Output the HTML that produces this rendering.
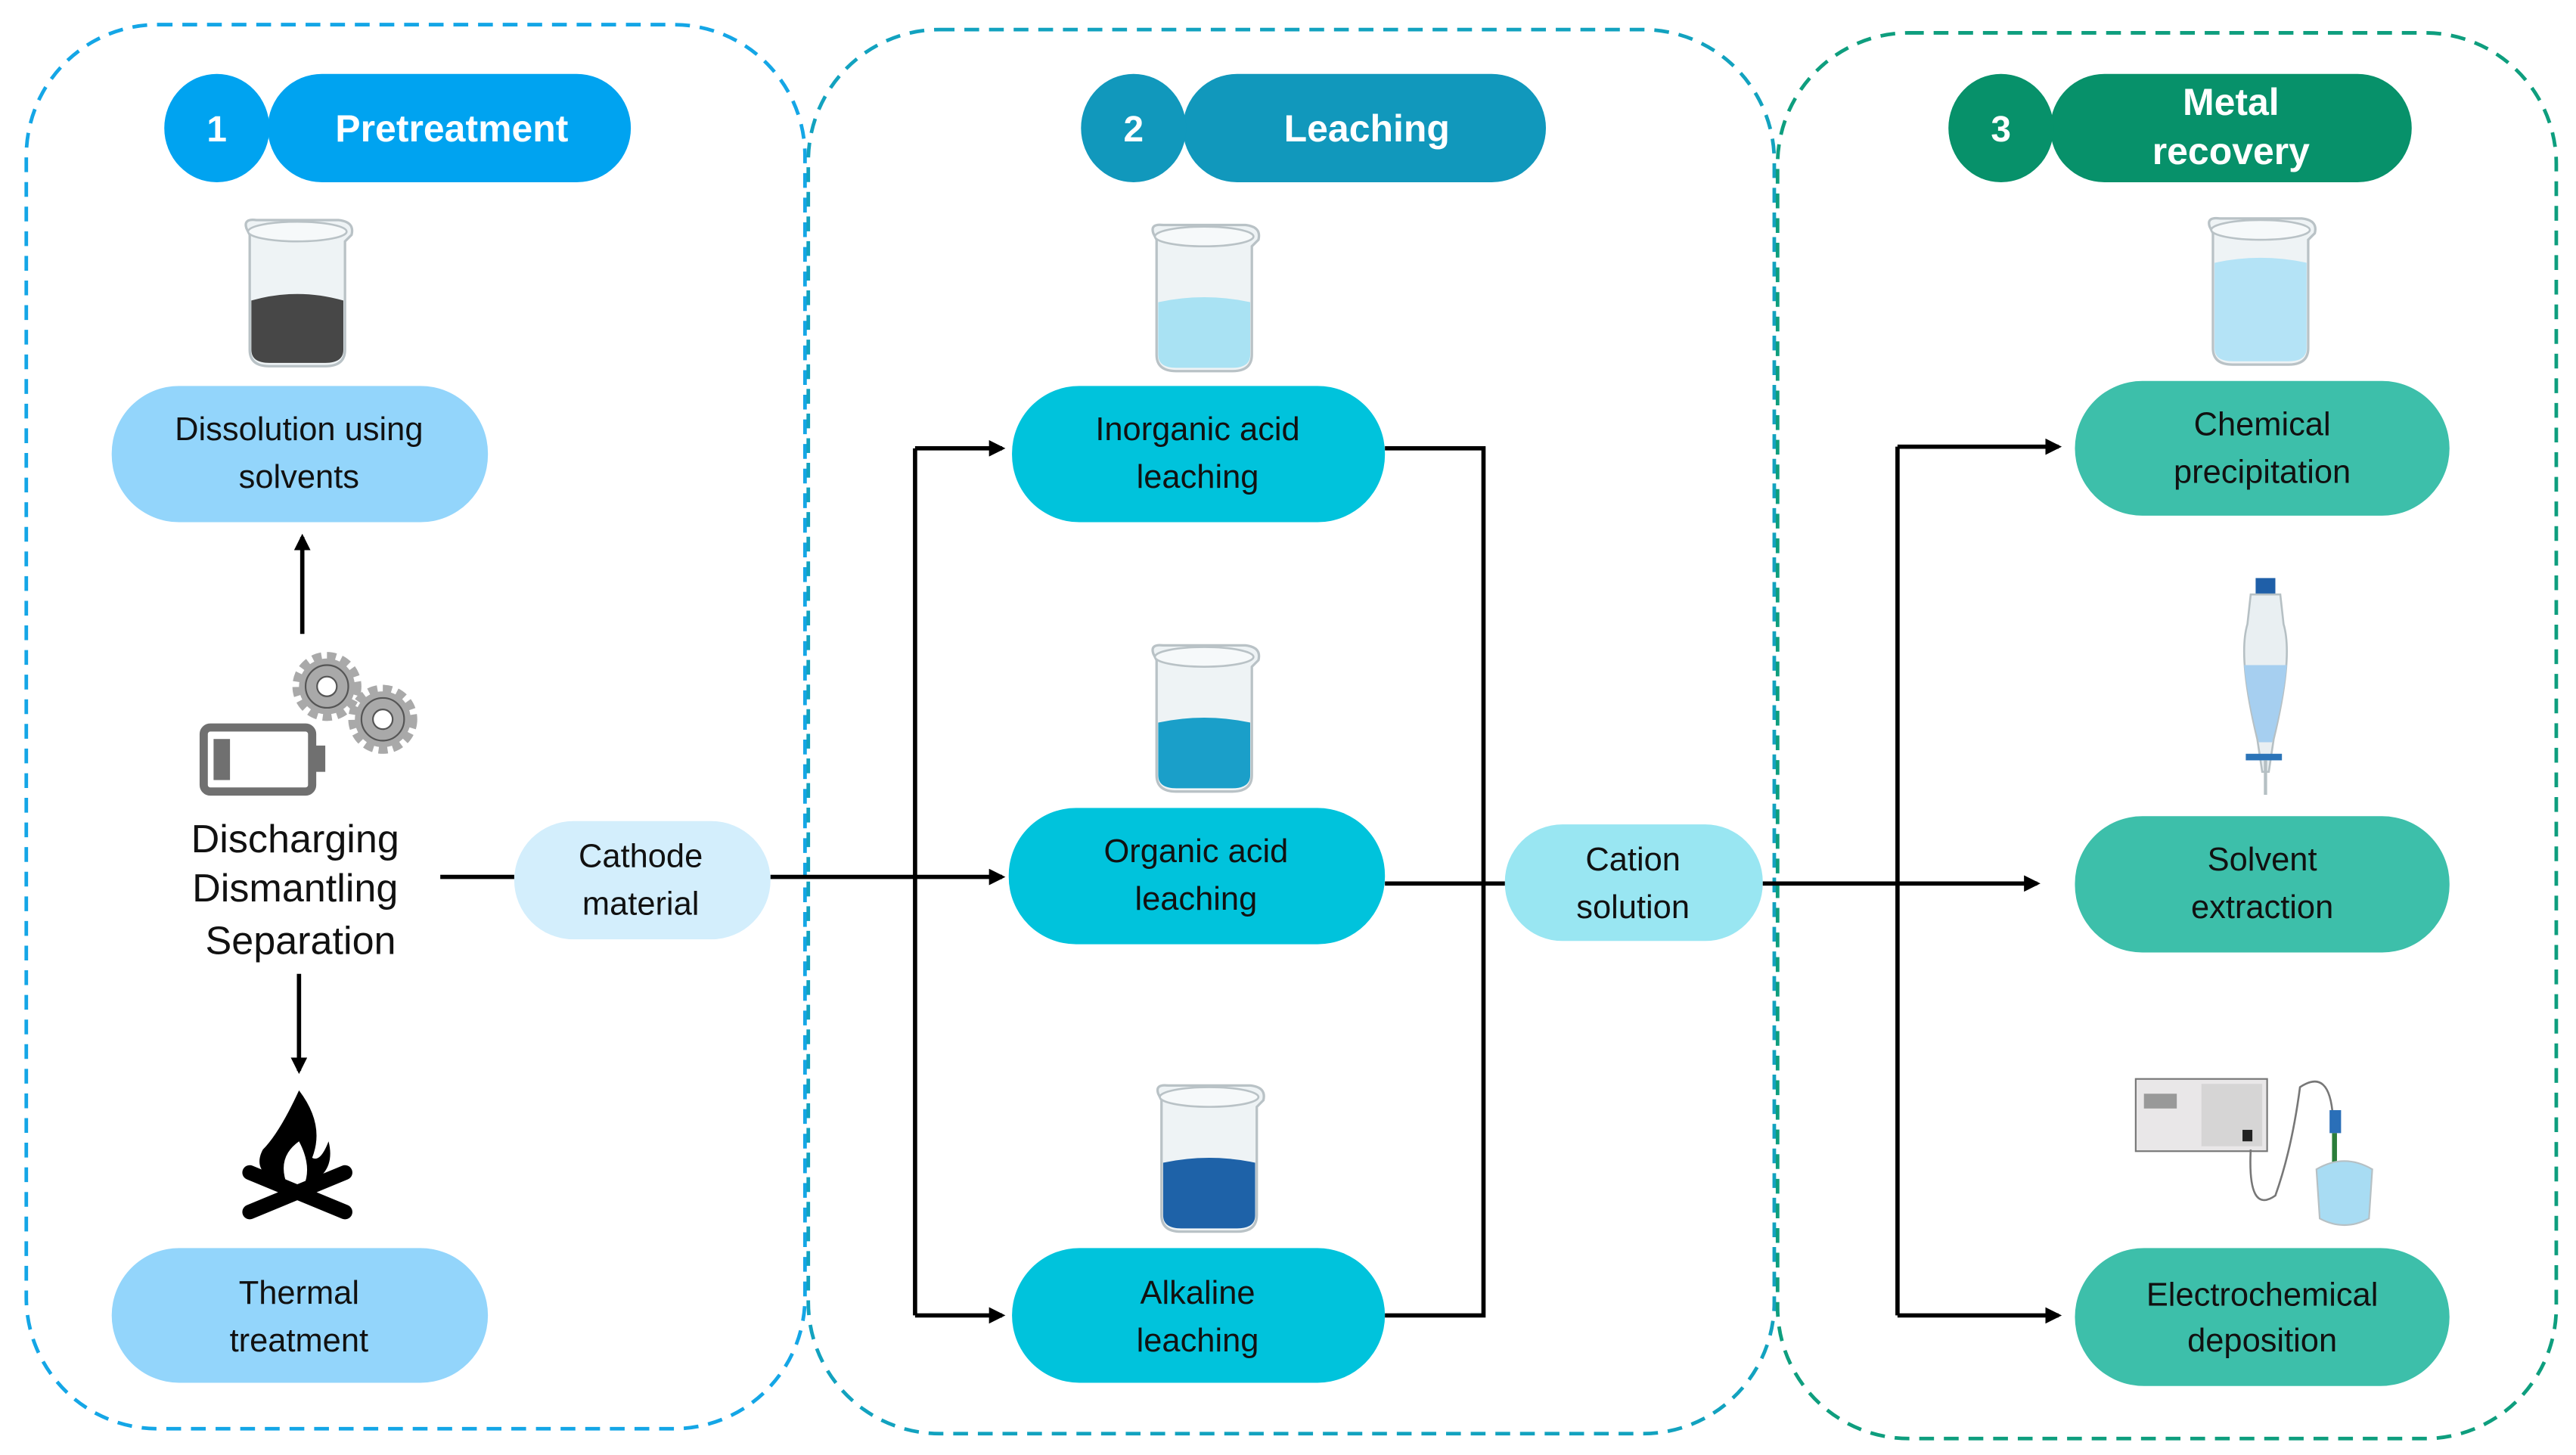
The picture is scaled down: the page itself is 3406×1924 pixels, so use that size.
<!DOCTYPE html>
<html><head><meta charset="utf-8"><style>
html,body{margin:0;padding:0;background:#fff;}
svg{display:block;}
text{font-family:"Liberation Sans",Arial,sans-serif;}
</style></head><body>
<svg width="3406" height="1924" viewBox="0 0 1568 886" preserveAspectRatio="none" xmlns="http://www.w3.org/2000/svg">
<defs>
<marker id="ah" markerWidth="10" markerHeight="10" refX="8" refY="5" orient="auto" markerUnits="userSpaceOnUse">
<path d="M0,0 L10,5 L0,10 Z" fill="#000"/></marker>
<g id="beaker">
<path d="M2,6 Q0,0 8,1 L58,1 Q68,2 66,10 L62,14 L62,80 Q62,90 50,90 L16,90 Q4,90 4,80 L4,10 Z" fill="#eef3f5" stroke="#b9c2c6" stroke-width="1.5"/>
<ellipse cx="33" cy="8" rx="30" ry="6" fill="#f6f9fa" stroke="#b9c2c6" stroke-width="1.2"/>
</g>
</defs>
<!-- panels -->
<rect x="16" y="15" width="474" height="855" rx="80" fill="none" stroke="#14a6e6" stroke-width="2.2" stroke-dasharray="9,6"/>
<rect x="492" y="18" width="588" height="855" rx="80" fill="none" stroke="#12a2bf" stroke-width="2.2" stroke-dasharray="9,6"/>
<rect x="1082" y="20" width="474" height="856" rx="80" fill="none" stroke="#0e9e7e" stroke-width="2.2" stroke-dasharray="9,6"/>

<!-- headers -->
<rect x="163" y="45" width="221" height="66" rx="33" fill="#00a3f0"/>
<ellipse cx="132" cy="78" rx="32" ry="33" fill="#00a3f0"/>
<text x="132" y="86" font-size="22" font-weight="bold" fill="#fff" text-anchor="middle">1</text>
<text x="275" y="86" font-size="23" font-weight="bold" fill="#fff" text-anchor="middle">Pretreatment</text>

<rect x="720" y="45" width="221" height="66" rx="33" fill="#1198bc"/>
<ellipse cx="690" cy="78" rx="32" ry="33" fill="#1198bc"/>
<text x="690" y="86" font-size="22" font-weight="bold" fill="#fff" text-anchor="middle">2</text>
<text x="832" y="86" font-size="23" font-weight="bold" fill="#fff" text-anchor="middle">Leaching</text>

<rect x="1248" y="45" width="220" height="66" rx="33" fill="#07916a"/>
<ellipse cx="1218" cy="78" rx="32" ry="33" fill="#07916a"/>
<text x="1218" y="86" font-size="22" font-weight="bold" fill="#fff" text-anchor="middle">3</text>
<text x="1358" y="70" font-size="23" font-weight="bold" fill="#fff" text-anchor="middle">Metal</text>
<text x="1358" y="100" font-size="23" font-weight="bold" fill="#fff" text-anchor="middle">recovery</text>

<!-- beakers -->
<g transform="translate(148,133)"><use href="#beaker"/><path d="M5,50 Q33,42 61,50 L61,80 Q61,88 50,88 L16,88 Q5,88 5,80 Z" fill="#474747"/></g>
<g transform="translate(700,136)"><use href="#beaker"/><path d="M5,48 Q33,42 61,48 L61,80 Q61,88 50,88 L16,88 Q5,88 5,80 Z" fill="#a9e2f3"/></g>
<g transform="translate(700,392)"><use href="#beaker"/><path d="M5,48 Q33,42 61,48 L61,80 Q61,88 50,88 L16,88 Q5,88 5,80 Z" fill="#1a9fc9"/></g>
<g transform="translate(703,660)"><use href="#beaker"/><path d="M5,48 Q33,42 61,48 L61,80 Q61,88 50,88 L16,88 Q5,88 5,80 Z" fill="#1e62a8"/></g>
<g transform="translate(1343,132)"><use href="#beaker"/><path d="M5,28 Q33,22 61,28 L61,80 Q61,88 50,88 L16,88 Q5,88 5,80 Z" fill="#b4e3f6"/></g>

<!-- funnel -->
<g>
<rect x="1373" y="352" width="12" height="10" fill="#1f5fa8"/>
<path d="M1370,362 L1388,362 L1390,380 Q1396,400 1384,450 L1381,470 L1377,470 L1374,450 Q1362,400 1368,380 Z" fill="#e9eff2" stroke="#b6c0c4" stroke-width="1.2"/>
<path d="M1366,405 L1392,405 Q1390,425 1383,452 L1375,452 Q1368,425 1366,405 Z" fill="#a6cff0"/>
<rect x="1367" y="459" width="22" height="4" fill="#2b74b8"/>
<line x1="1379" y1="463" x2="1379" y2="484" stroke="#b6c0c4" stroke-width="2"/>
</g>

<!-- meter -->
<g>
<rect x="1300" y="657" width="80" height="44" fill="#e9e7e8" stroke="#777" stroke-width="1"/>
<rect x="1340" y="660" width="37" height="38" fill="#d6d5d5"/>
<rect x="1305" y="666" width="20" height="9" fill="#999"/>
<rect x="1365" y="688" width="6" height="7" fill="#222"/>
<path d="M1370,700 Q1368,740 1385,728 Q1395,700 1400,662 Q1418,650 1420,680" fill="none" stroke="#777" stroke-width="1.2"/>
<rect x="1418" y="676" width="7" height="14" fill="#2a6fb8"/>
<line x1="1421" y1="690" x2="1421" y2="740" stroke="#2b7d3a" stroke-width="3"/>
<path d="M1410,712 Q1427,702 1444,712 L1442,742 Q1427,750 1412,742 Z" fill="#a8dcf3" stroke="#b6c0c4"/>
</g>

<!-- gears + battery -->
<g fill="#a9a9a9" stroke="#555" stroke-width="1">
<circle cx="199" cy="418" r="17" stroke-dasharray="5,3" stroke-width="8" stroke="#a9a9a9"/>
<circle cx="199" cy="418" r="13"/>
<circle cx="199" cy="418" r="6" fill="#fff"/>
<circle cx="233" cy="438" r="17" stroke-dasharray="5,3" stroke-width="8" stroke="#a9a9a9"/>
<circle cx="233" cy="438" r="13"/>
<circle cx="233" cy="438" r="6" fill="#fff"/>
</g>
<rect x="124" y="443" width="66" height="39" rx="4" fill="#fff" stroke="#707070" stroke-width="5"/>
<rect x="190" y="454" width="8" height="16" fill="#707070"/>
<rect x="130" y="450" width="10" height="25" fill="#707070"/>

<!-- text discharging -->
<text font-size="24" text-anchor="middle" fill="#111">
<tspan x="183" y="519">Discharging</tspan>
<tspan x="183" y="549">Dismantling</tspan>
<tspan x="183" y="581">Separation</tspan>
</text>

<!-- fire -->
<path d="M182,664 Q170,690 160,700 Q152,715 175,722 Q168,705 182,695 Q190,710 185,722 Q205,715 200,695 Q195,708 190,705 Q198,685 182,664 Z" fill="#000"/>
<line x1="152" y1="738" x2="210" y2="714" stroke="#000" stroke-width="9" stroke-linecap="round"/>
<line x1="152" y1="714" x2="210" y2="738" stroke="#000" stroke-width="9" stroke-linecap="round"/>

<!-- nodes -->
<g font-size="20" text-anchor="middle" fill="#111">
<rect x="68" y="235" width="229" height="83" rx="41" fill="#93d5fb"/>
<text x="182" y="268">Dissolution using</text><text x="182" y="297">solvents</text>
<rect x="68" y="760" width="229" height="82" rx="41" fill="#93d5fb"/>
<text x="182" y="794">Thermal</text><text x="182" y="823">treatment</text>
<rect x="313" y="500" width="156" height="72" rx="36" fill="#d3eefc"/>
<text x="390" y="528">Cathode</text><text x="390" y="557">material</text>

<rect x="616" y="235" width="227" height="83" rx="41" fill="#00c3dc"/>
<text x="729" y="268">Inorganic acid</text><text x="729" y="297">leaching</text>
<rect x="614" y="492" width="229" height="83" rx="41" fill="#00c3dc"/>
<text x="728" y="525">Organic acid</text><text x="728" y="554">leaching</text>
<rect x="616" y="760" width="227" height="82" rx="41" fill="#00c3dc"/>
<text x="729" y="794">Alkaline</text><text x="729" y="823">leaching</text>
<rect x="916" y="502" width="157" height="71" rx="35" fill="#99e6f2"/>
<text x="994" y="530">Cation</text><text x="994" y="559">solution</text>

<rect x="1263" y="232" width="228" height="82" rx="41" fill="#3dbfaa"/>
<text x="1377" y="265">Chemical</text><text x="1377" y="294">precipitation</text>
<rect x="1263" y="497" width="228" height="83" rx="41" fill="#3dbfaa"/>
<text x="1377" y="530">Solvent</text><text x="1377" y="559">extraction</text>
<rect x="1263" y="760" width="228" height="84" rx="42" fill="#3dbfaa"/>
<text x="1377" y="795">Electrochemical</text><text x="1377" y="823">deposition</text>
</g>

<!-- connectors -->
<g stroke="#000" stroke-width="2.6" fill="none">
<line x1="184" y1="386" x2="184" y2="327" marker-end="url(#ah)"/>
<line x1="182" y1="593" x2="182" y2="652" marker-end="url(#ah)"/>
<line x1="268" y1="534" x2="313" y2="534"/>
<line x1="469" y1="534" x2="610" y2="534" marker-end="url(#ah)"/>
<line x1="557" y1="273" x2="557" y2="801"/>
<line x1="557" y1="273" x2="610" y2="273" marker-end="url(#ah)"/>
<line x1="557" y1="801" x2="610" y2="801" marker-end="url(#ah)"/>
<polyline points="843,273 903,273 903,801 843,801"/>
<line x1="843" y1="538" x2="916" y2="538"/>
<line x1="1073" y1="538" x2="1240" y2="538" marker-end="url(#ah)"/>
<line x1="1155" y1="272" x2="1155" y2="801"/>
<line x1="1155" y1="272" x2="1253" y2="272" marker-end="url(#ah)"/>
<line x1="1155" y1="801" x2="1253" y2="801" marker-end="url(#ah)"/>
</g>
</svg>
</body></html>
